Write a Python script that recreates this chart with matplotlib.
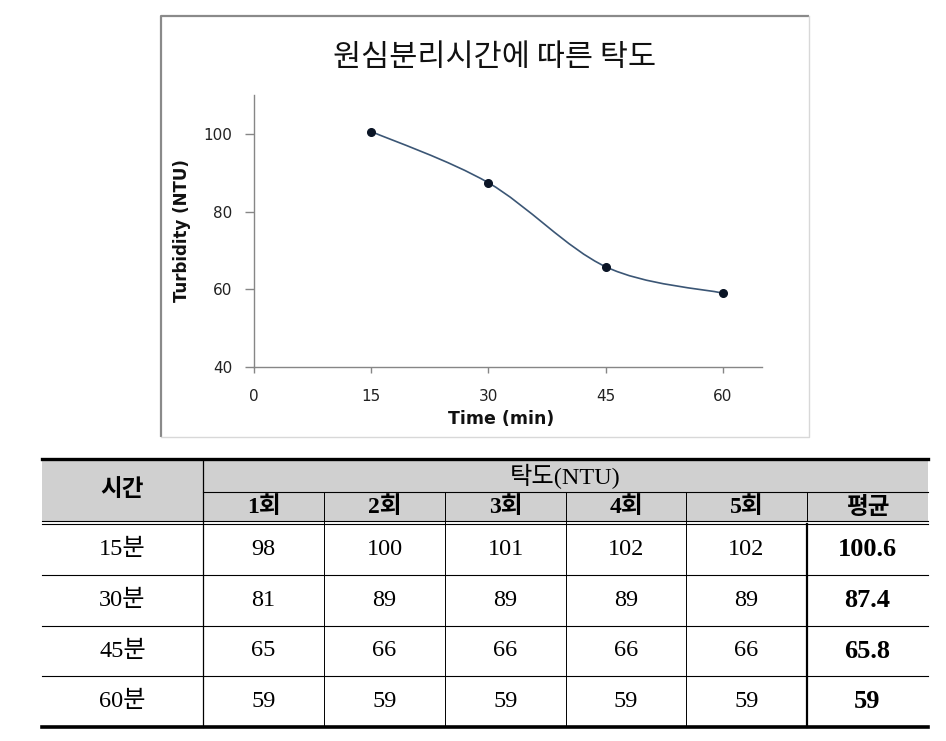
import numpy as np
import matplotlib.pyplot as plt
from matplotlib.path import Path
from matplotlib.patches import PathPatch, Rectangle

# chart data
times = [15, 30, 45, 60]
turbidity_mean = [100.6, 87.4, 65.8, 59]
x_ticks = [0, 15, 30, 45, 60]
y_ticks = [40, 60, 80, 100]

# table data
row_labels = ['15분', '30분', '45분', '60분']
trial_labels = ['1회', '2회', '3회', '4회', '5회', '평균']
trial_values = [
    [98, 100, 101, 102, 102],
    [81, 89, 89, 89, 89],
    [65, 66, 66, 66, 66],
    [59, 59, 59, 59, 59],
]
mean_labels = ['100.6', '87.4', '65.8', '59']

W, H = 946, 741
KR = ['Noto Sans CJK KR', 'DejaVu Sans']
SERIF_KR = ['Liberation Serif', 'Noto Sans CJK KR']

fig = plt.figure(figsize=(W / 100, H / 100), dpi=100)

# background axes in pixel coordinates for frame, titles and table
bg = fig.add_axes([0, 0, 1, 1])
bg.set_xlim(0, W)
bg.set_ylim(H, 0)
bg.axis('off')

# chart frame
bg.plot([161, 161, 809], [437, 16, 16], color='#8a8a8a', lw=1.6, solid_capstyle='butt')
bg.plot([809, 809, 161], [16, 437, 437], color='#d8d8d8', lw=1.0)

bg.text(495, 57, '원심분리시간에 따른 탁도', ha='center', va='center',
        fontsize=22, family=KR, fontweight='medium', color='#111111')
bg.text(182, 231, 'Turbidity (NTU)', rotation=90, ha='center', va='center',
        fontsize=12, fontweight='bold', family='DejaVu Sans', color='#111111')
bg.text(501, 419, 'Time (min)', ha='center', va='center',
        fontsize=12.5, fontweight='bold', family='DejaVu Sans', color='#111111')

# line chart
ax = fig.add_axes([254 / W, 1 - 367 / H, (762 - 254) / W, (367 - 95) / H])
ax.set_facecolor('none')
ax.set_xlim(0, 65)
ax.set_ylim(40, 110)
ax.set_xticks(x_ticks)
ax.set_yticks(y_ticks)
for s in ['top', 'right']:
    ax.spines[s].set_visible(False)
for s in ['left', 'bottom']:
    ax.spines[s].set_color('#868686')
    ax.spines[s].set_linewidth(1.0)
ax.tick_params(axis='y', length=6.5, width=1.0, color='#868686', pad=9,
               labelsize=11, labelcolor='#222222')
ax.tick_params(axis='x', length=4.5, width=1.0, color='#868686', pad=11,
               labelsize=11, labelcolor='#222222')

# smoothed line (Catmull-Rom as cubic Bezier segments)
pts = np.column_stack([times, turbidity_mean]).astype(float)
ext = np.vstack([pts[0], pts, pts[-1]])
verts = [tuple(pts[0])]
codes = [Path.MOVETO]
for i in range(1, len(ext) - 2):
    p0, p1, p2, p3 = ext[i - 1], ext[i], ext[i + 1], ext[i + 2]
    c1 = p1 + (p2 - p0) / 6
    c2 = p2 - (p3 - p1) / 6
    verts += [tuple(c1), tuple(c2), tuple(p2)]
    codes += [Path.CURVE4] * 3
ax.add_patch(PathPatch(Path(verts, codes), facecolor='none',
                       edgecolor='#3b5675', lw=1.2))
ax.plot(times, turbidity_mean, 'o', color='#0b1526', markersize=5.5, zorder=3)

# table
col_x = [42, 203, 324, 445, 566, 686, 807, 928]
top, h_mid, h_bot1, h_bot2 = 459, 492, 521, 524
row_y = [524, 575, 626, 676, 727]

bg.add_patch(Rectangle((col_x[0], top), col_x[-1] - col_x[0], h_bot1 - top,
                       facecolor='#d0d0d0', edgecolor='none', zorder=0))
bg.plot([col_x[0], col_x[-1]], [top, top], color='black', lw=2.4)
bg.plot([col_x[1], col_x[-1]], [h_mid, h_mid], color='black', lw=0.8)
bg.plot([col_x[0], col_x[-1]], [h_bot1, h_bot1], color='black', lw=0.8)
bg.plot([col_x[0], col_x[-1]], [h_bot2, h_bot2], color='black', lw=0.8)
for y in row_y[1:-1]:
    bg.plot([col_x[0], col_x[-1]], [y, y], color='black', lw=0.8)
bg.plot([col_x[0], col_x[-1]], [row_y[-1], row_y[-1]], color='black', lw=2.6)

bg.plot([col_x[1], col_x[1]], [top, row_y[-1]], color='black', lw=0.9)
for x in col_x[2:6]:
    bg.plot([x, x], [h_mid, row_y[-1]], color='black', lw=0.7)
bg.plot([col_x[6], col_x[6]], [h_mid, h_bot1], color='black', lw=0.7)
bg.plot([col_x[6], col_x[6]], [h_bot2, row_y[-1]], color='black', lw=1.6)

bg.text((col_x[0] + col_x[1]) / 2, (top + h_bot1) / 2, '시간', ha='center', va='center',
        fontsize=17, family=SERIF_KR, fontweight='bold')
bg.text((col_x[1] + col_x[-1]) / 2, (top + h_mid) / 2 + 1, '탁도(NTU)', ha='center',
        va='center', fontsize=17.5, family=SERIF_KR)
for j, lab in enumerate(trial_labels):
    bg.text((col_x[j + 1] + col_x[j + 2]) / 2, (h_mid + h_bot1) / 2 + 1, lab,
            ha='center', va='center', fontsize=17, family=SERIF_KR, fontweight='bold')

for i, lab in enumerate(row_labels):
    yc = (row_y[i] + row_y[i + 1]) / 2
    bg.text((col_x[0] + col_x[1]) / 2, yc, lab, ha='center', va='center',
            fontsize=17.5, family=SERIF_KR)
    for j, v in enumerate(trial_values[i]):
        bg.text((col_x[j + 1] + col_x[j + 2]) / 2, yc, str(v), ha='center', va='center',
                fontsize=17.5, family=SERIF_KR)
    bg.text((col_x[6] + col_x[7]) / 2, yc, mean_labels[i], ha='center', va='center',
            fontsize=19, family=SERIF_KR, fontweight='bold')

fig.savefig('out.png', dpi=100)
